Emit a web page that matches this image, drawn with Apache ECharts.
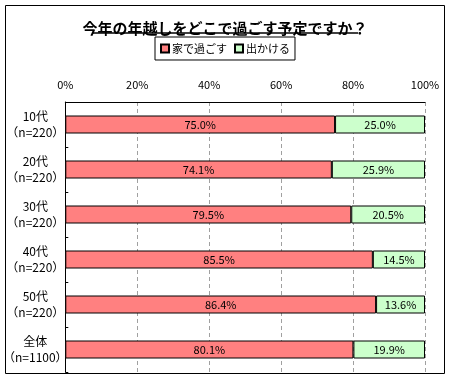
<!DOCTYPE html>
<html><head><meta charset="utf-8">
<script src="https://cdn.jsdelivr.net/npm/echarts@6/dist/echarts.min.js"></script>
<style>html,body{margin:0;padding:0;background:#fff}#c{width:450px;height:378px}</style>
</head><body><div id="c"></div>
<script>
const categories = ['10代\n（n=220）','20代\n（n=220）','30代\n（n=220）','40代\n（n=220）','50代\n（n=220）','全体\n（n=1100）'];
const homeValues = [75.0, 74.1, 79.5, 85.5, 86.4, 80.1];
const outValues = [25.0, 25.9, 20.5, 14.5, 13.6, 19.9];
const seriesNames = ['家で過ごす','出かける'];
const xTicks = [0, 20, 40, 60, 80, 100];

const FONT = '"Noto Sans CJK JP", sans-serif';
const chart = echarts.init(document.getElementById('c'), null, {renderer:'canvas'});
const lbl = {show:true, position:'inside', color:'#000', fontSize:11, fontFamily:FONT,
  formatter: p => p.value.toFixed(1) + '%'};
chart.setOption({
  animation:false,
  title:{text:'今年の年越しをどこで過ごす予定ですか？', left:'center', top:16,
    textStyle:{fontSize:15, fontWeight:'bold', color:'#000', fontFamily:FONT}},
  legend:{data:seriesNames, top:37, left:'center', itemWidth:8, itemHeight:8, itemGap:7,
    borderColor:'#000', borderWidth:1, padding:[6,5], borderRadius:0,
    textStyle:{fontSize:11, color:'#000', fontFamily:FONT, padding:[0,0,0,-2]},
    icon:'rect'},
  grid:{left:65, right:25, top:102, height:270, containLabel:false},
  xAxis:{type:'value', position:'top', min:0, max:100, interval:20,
    axisLabel:{formatter: v => xTicks.includes(v) ? v + '%' : '', color:'#000', fontSize:11, fontFamily:FONT, margin:12},
    axisLine:{show:true, lineStyle:{color:'#000', width:1}},
    axisTick:{show:false},
    splitLine:{show:true, lineStyle:{color:'#a0a0a0', type:[4,3], width:1}}},
  yAxis:{type:'category', data:categories, inverse:true,
    axisLine:{show:true, lineStyle:{color:'#000', width:1}},
    axisTick:{show:true, inside:true, length:3, lineStyle:{color:'#000'}},
    axisLabel:{color:'#000', fontSize:12, fontFamily:FONT, align:'center', margin:30, lineHeight:16}},
  series:[
    {name:seriesNames[0], type:'bar', stack:'s', data:homeValues, barWidth:18,
      itemStyle:{color:'#ff8080', borderColor:'#000', borderWidth:1}, label:lbl},
    {name:seriesNames[1], type:'bar', stack:'s', data:outValues, barWidth:18,
      itemStyle:{color:'#ccffcc', borderColor:'#000', borderWidth:1}, label:lbl}
  ],
  graphic:[
    {type:'rect', shape:{x:5.5, y:5.5, width:439, height:368}, style:{fill:'none', stroke:'#000', lineWidth:1}, silent:true},
    {type:'line', shape:{x1:92, y1:33, x2:358, y2:33}, style:{stroke:'#000', lineWidth:1.5}, silent:true}
  ]
});
</script></body></html>
